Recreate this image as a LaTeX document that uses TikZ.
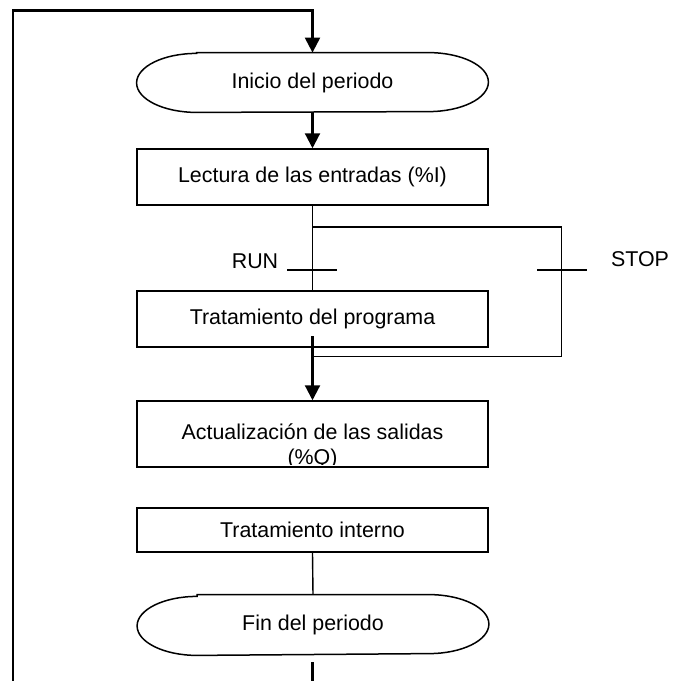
\documentclass[tikz,border=0pt]{standalone}
\usepackage{fontspec}
\setmainfont{Liberation Sans}
\usetikzlibrary{arrows.meta,calc}

\tikzset{
  txtfont/.style={font=\fontsize{10.7pt}{12.6pt}\selectfont},
  boxline/.style={line width=0.75pt},
  thinline/.style={line width=0.7pt},
  flowline/.style={line width=1.1pt},
  flowarrow/.style={flowline,-{Triangle[length=7.5pt,width=7.5pt]}},
  procbox/.style={draw,boxline,rectangle,minimum width=175.5pt,inner sep=0pt,txtfont},
  ovalbox/.style={rectangle,minimum width=175.5pt,minimum height=29.5pt,inner sep=0pt,txtfont},
  lbl/.style={inner sep=0pt,txtfont},
}

% stadium outline with elliptical ends around an oval node
\newcommand{\ovaloutline}[1]{%
  \draw[boxline] ($(#1.north west)+(60,0)$) -- ($(#1.north east)+(-60,0)$)
    arc[start angle=90,end angle=-90,x radius=30pt,y radius=14.75pt]
    -- ($(#1.south west)+(60,0)$)
    arc[start angle=270,end angle=90,x radius=30pt,y radius=14.75pt] -- cycle;}

\begin{document}
\begin{tikzpicture}[x=0.5pt,y=-0.5pt]
\useasboundingbox (0,0) rectangle (681,681);

% process steps
\node[ovalbox] (inicio) at (312.5,82.5) {Inicio del periodo};
\ovaloutline{inicio}
\node[procbox,minimum height=28pt] (lectura) at (312.5,177) {Lectura de las entradas (\%I)};
\node[procbox,minimum height=28pt] (programa) at (312.5,319) {Tratamiento del programa};
\node[procbox,minimum height=33pt] (salidas) at (312.5,434) {};
\begin{scope}
  \clip ($(salidas.north west)+(1,1)$) rectangle ($(salidas.south east)+(-1,-3)$);
  \node[lbl,align=center] (salidastxt) at (312.5,446) {Actualización de las salidas\\(\%Q)};
\end{scope}
\node[procbox,minimum height=22pt] (interno) at (312.5,530) {Tratamiento interno};
\node[ovalbox,minimum height=30pt] (fin) at (313,625) {Fin del periodo};
\ovaloutline{fin}

% loop back from the end of the cycle
\coordinate (finout) at (312.5,662);
\coordinate (botend) at (312.5,681);
\coordinate (loopbl) at (13,681);
\coordinate (looptl) at (13,10.5);
\draw[flowline] (finout) -- (botend);
\draw[flowarrow] (loopbl) -- (looptl) -| (inicio.north);

\draw[flowarrow] (inicio.south) -- (lectura.north);

% RUN / STOP branches
\coordinate (brtop) at (312.5,227);
\coordinate (brtr) at (561.5,227);
\coordinate (brbr) at (561.5,356.5);
\coordinate (brbot) at (312.5,356.5);
\draw[thinline] (lectura.south) -- (programa.north);
\draw[thinline] (brtop) -- (brtr) -- (brbr) -- (brbot);

\coordinate (runl) at (287,270);
\coordinate (runr) at (337,270);
\coordinate (stopl) at (537,270);
\coordinate (stopr) at (587,270);
\draw[thinline] (runl) -- (runr);
\draw[thinline] (stopl) -- (stopr);
\node[lbl] (run) at (255,261) {RUN};
\node[lbl] (stop) at (640,259) {STOP};

\coordinate (progout) at (312.5,336);
\draw[flowarrow] (progout) -- (salidas.north);

\draw[thinline] (interno.south) -- (fin.north);
\end{tikzpicture}
\end{document}
